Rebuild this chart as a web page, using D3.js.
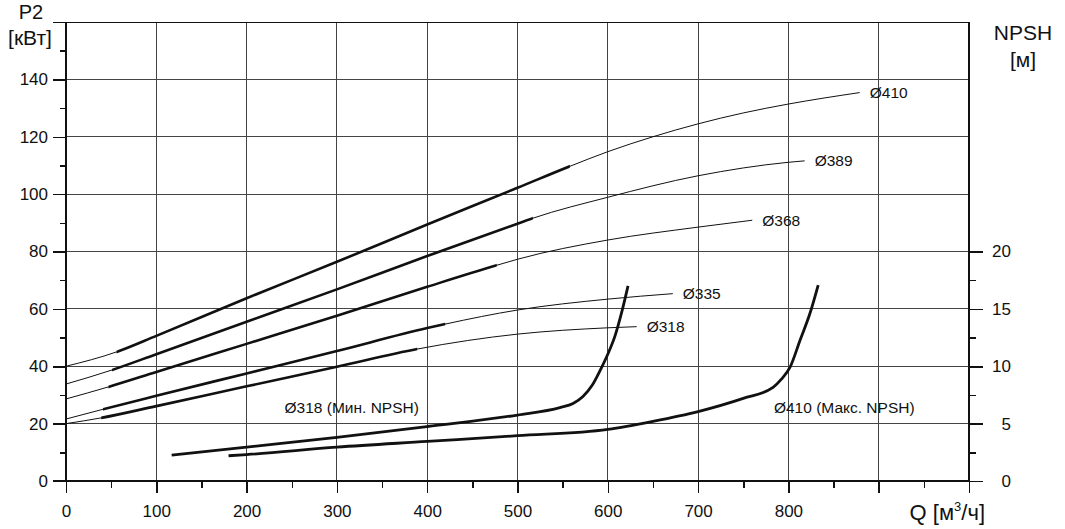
<!DOCTYPE html>
<html><head><meta charset="utf-8">
<script src="https://cdn.jsdelivr.net/npm/d3@7"></script>
<style>
body{margin:0;background:#fff;}
svg text{font-family:"Liberation Sans",Arial,sans-serif;fill:#111;}
</style></head>
<body><svg id="c" width="1065" height="529"></svg>
<script>
// ---- data ----
const Q_TICKS = [0,100,200,300,400,500,600,700,800,900,1000];
const Q_LABELLED_MAX = 800;
const P_TICKS = [0,20,40,60,80,100,120,140,160];
const P_LABELLED_MAX = 140;
const NPSH_TICKS = [0,5,10,15,20];

const DIAMETERS = ["Ø410","Ø389","Ø368","Ø335","Ø318"];
const q410 = [0, 56, 100, 200, 300, 400, 500, 558, 600, 650, 700, 750, 800, 879];
const p410 = [40, 45, 50.6, 63.7, 76.4, 89.4, 102.2, 109.7, 114.8, 120.0, 124.5, 128.3, 131.4, 135.4];
const q389 = [0, 51, 100, 200, 300, 400, 500, 517, 600, 700, 800, 818];
const p389 = [33.8, 38.7, 44.2, 55.5, 66.8, 78.4, 89.7, 91.6, 98.9, 106.4, 111.1, 111.6];
const q368 = [0, 47, 100, 200, 300, 400, 477, 500, 600, 700, 760];
const p368 = [28.6, 32.8, 38, 47.8, 57.6, 67.7, 75.2, 77.3, 84, 88.5, 90.9];
const q335 = [0, 41, 100, 200, 300, 400, 420, 500, 600, 672];
const p335 = [21.6, 25, 29.7, 37.5, 45.3, 53.3, 54.7, 59.6, 63.4, 65.3];
const q318 = [0, 39, 100, 200, 300, 389, 500, 600, 632];
const p318 = [20, 22, 26.1, 33, 39.8, 46, 51.2, 53.4, 53.8];
const THICK_FROM = [56, 51, 47, 41, 39];
const THICK_TO   = [558, 517, 477, 420, 389];

const NPSH_LABELS = ["Ø318 (Мин. NPSH)", "Ø410 (Макс. NPSH)"];
const qN318 = [117, 200, 300, 400, 500, 547, 561.5, 572.5, 582.5, 591.4, 600.2, 608, 615.7, 622.4];
const n318  = [2.25, 2.95, 3.8, 4.75, 5.75, 6.4, 6.76, 7.37, 8.32, 9.62, 11.09, 12.65, 14.8, 17.0];
const qN410 = [180, 200, 300, 400, 500, 600, 650, 700, 750, 783, 792, 802, 813, 824, 833];
const n410  = [2.2, 2.3, 2.95, 3.45, 3.95, 4.5, 5.2, 6.05, 7.2, 8.15, 8.85, 9.95, 12.29, 14.64, 17.08];

// ---- layout ----
const svg = d3.select("#c");
const L = 66, R = 969, T = 22, B = 481;
const x = d3.scaleLinear().domain([0,1000]).range([L,R]);
const y = d3.scaleLinear().domain([0,160]).range([B,T]);
const yN = d3.scaleLinear().domain([0,40]).range([B,T]);
const ink = "#111", grid = "#444";

// grid
const g = svg.append("g").attr("shape-rendering","crispEdges");
g.selectAll(".vg").data(Q_TICKS.filter(d=>d>0&&d<1000)).join("line")
 .attr("x1",d=>x(d)).attr("x2",d=>x(d)).attr("y1",T).attr("y2",B)
 .attr("stroke",grid).attr("stroke-width",1);
g.selectAll(".hg").data(P_TICKS.filter(d=>d>0)).join("line")
 .attr("x1",L).attr("x2",R).attr("y1",d=>y(d)).attr("y2",d=>y(d))
 .attr("stroke",d=>d===160?ink:grid).attr("stroke-width",1);

function styleAxis(sel, w){
  sel.select(".domain").remove();
  sel.selectAll(".tick line").attr("stroke",ink).attr("stroke-width",w);
  sel.selectAll("text").attr("font-size",17).attr("fill",ink);
  sel.attr("shape-rendering","crispEdges");
}
// minor axes
const minorQ = d3.range(50,1000,100);
const minorP = d3.range(10,160,20);
const minorN = [2.5,7.5,12.5,17.5];
svg.append("g").attr("transform",`translate(0,${B})`)
 .call(d3.axisBottom(x).tickValues(minorQ).tickSize(7).tickFormat(""))
 .call(s=>styleAxis(s,1.5));
svg.append("g").attr("transform",`translate(${L},0)`)
 .call(d3.axisLeft(y).tickValues(minorP).tickSize(6).tickFormat(""))
 .call(s=>styleAxis(s,1.5));
svg.append("g").attr("transform",`translate(${R},0)`)
 .call(d3.axisRight(yN).tickValues(minorN).tickSize(7).tickFormat(""))
 .call(s=>styleAxis(s,1.5));
// major axes
svg.append("g").attr("transform",`translate(0,${B})`)
 .call(d3.axisBottom(x).tickValues(Q_TICKS).tickSize(12).tickPadding(12)
   .tickFormat(d=>d<=Q_LABELLED_MAX?d:""))
 .call(s=>styleAxis(s,1.5));
svg.append("g").attr("transform",`translate(${L},0)`)
 .call(d3.axisLeft(y).tickValues(P_TICKS).tickSize(13).tickPadding(5)
   .tickFormat(d=>d<=P_LABELLED_MAX?d:""))
 .call(s=>styleAxis(s,1.5));
svg.append("g").attr("transform",`translate(${R},0)`)
 .call(d3.axisRight(yN).tickValues(NPSH_TICKS).tickSize(14))
 .call(s=>{styleAxis(s,1.5); s.selectAll("text").attr("text-anchor","end").attr("x",42);});

// axis lines
const ax = svg.append("g").attr("stroke",ink).attr("stroke-width",2).attr("shape-rendering","crispEdges");
ax.append("line").attr("x1",L).attr("x2",L).attr("y1",T).attr("y2",B+1);
ax.append("line").attr("x1",R).attr("x2",R).attr("y1",T).attr("y2",B+1);
ax.append("line").attr("x1",L-13).attr("x2",R).attr("y1",B).attr("y2",B);

// power curves
const pSeries = [[q410,p410],[q389,p389],[q368,p368],[q335,p335],[q318,p318]];
const line = d3.line().x(d=>x(d[0])).y(d=>y(d[1])).curve(d3.curveMonotoneX);
const defs = svg.append("defs");
pSeries.forEach(([qs,ps],i)=>{
  const pts = qs.map((q,j)=>[q,ps[j]]);
  defs.append("clipPath").attr("id","cp"+i).append("rect")
    .attr("x",x(THICK_FROM[i])).attr("width",x(THICK_TO[i])-x(THICK_FROM[i]))
    .attr("y",0).attr("height",529);
  svg.append("path").attr("d",line(pts)).attr("fill","none").attr("stroke",ink).attr("stroke-width",1);
  svg.append("path").attr("d",line(pts)).attr("fill","none").attr("stroke",ink).attr("stroke-width",2.6)
    .attr("clip-path",`url(#cp${i})`);
  const last = pts[pts.length-1];
  svg.append("text").attr("x",x(last[0])+10).attr("y",y(last[1])).attr("dy","0.35em")
    .attr("font-size",15.5).text(DIAMETERS[i]);
});

// NPSH curves
const lineN = d3.line().x(d=>x(d[0])).y(d=>yN(d[1])).curve(d3.curveMonotoneX);
[[qN318,n318],[qN410,n410]].forEach(([qs,ns])=>{
  const pts = qs.map((q,j)=>[q,ns[j]]);
  svg.append("path").attr("d",lineN(pts)).attr("fill","none").attr("stroke",ink)
    .attr("stroke-width",2.8).attr("stroke-linecap","butt");
});
svg.append("text").attr("x",x(242)).attr("y",yN(6.4)).attr("dy","0.35em").attr("font-size",15.5).text(NPSH_LABELS[0]);
svg.append("text").attr("x",x(784)).attr("y",yN(6.4)).attr("dy","0.35em").attr("font-size",15.5).text(NPSH_LABELS[1]);

// axis titles
svg.append("text").attr("x",31).attr("y",19).attr("text-anchor","middle").attr("font-size",20).text("P2");
svg.append("text").attr("x",30).attr("y",45).attr("text-anchor","middle").attr("font-size",21).text("[кВт]");
svg.append("text").attr("x",1023).attr("y",40).attr("text-anchor","middle").attr("font-size",21).text("NPSH");
svg.append("text").attr("x",1023).attr("y",67).attr("text-anchor","middle").attr("font-size",21).text("[м]");
const qt = svg.append("text").attr("x",985).attr("y",520).attr("text-anchor","end").attr("font-size",22);
qt.append("tspan").text("Q [м");
qt.append("tspan").attr("font-size",13).attr("dy",-9).text("3");
qt.append("tspan").attr("dy",9).text("/ч]");
</script></body></html>
